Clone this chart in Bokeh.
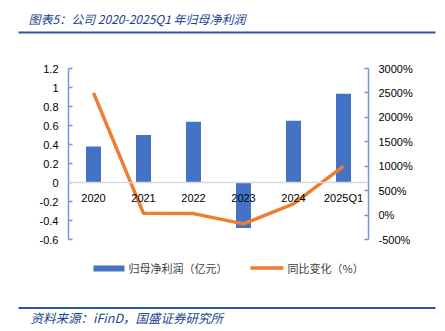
from bokeh.plotting import figure
from bokeh.layouts import column
from bokeh.models import (Range1d, LinearAxis, FixedTicker, CustomJSTickFormatter,
                          Span, FactorRange)
from bokeh.core.properties import value
from bokeh.embed import file_html
from bokeh.resources import INLINE

categories = ["2020", "2021", "2022", "2023", "2024", "2025Q1"]
profit = [0.38, 0.50, 0.64, -0.48, 0.65, 0.935]      # 归母净利润（亿元）
yoy_pct = [2500, 35, 30, -180, 230, 1000]             # 同比变化（%）
left_ticks = [-0.6, -0.4, -0.2, 0, 0.2, 0.4, 0.6, 0.8, 1.0, 1.2]
right_ticks = [-500, 0, 500, 1000, 1500, 2000, 2500, 3000]
title_text = "图表5：公司 2020-2025Q1 年归母净利润"
source_text = "资料来源：iFinD，国盛证券研究所"
legend_labels = ["归母净利润（亿元）", "同比变化（%）"]

W = 445
H_TOP, H_MAIN, H_BOT = 45, 205, 81
FL, FR = 68, 368             # frame x edges
BT, BB = 23, 11              # main figure top / bottom borders

BLUE = "#4472C4"
ORANGE = "#ED7D31"
AXIS = "#7097DC"
RULE = "#2B57A8"
TITLE = "#22428F"
LATIN = "Liberation Sans"
CJK = "Noto Sans CJK SC"


def deco_fig(h):
    f = figure(width=W, height=h, x_range=Range1d(0, W), y_range=Range1d(h, 0),
               output_backend="svg", toolbar_location=None,
               x_axis_location=None, y_axis_location=None,
               min_border=0, min_border_left=0, min_border_right=0,
               min_border_top=0, min_border_bottom=0)
    f.frame_align = False
    f.outline_line_color = None
    f.xgrid.visible = False
    f.ygrid.visible = False
    f.background_fill_color = "white"
    f.border_fill_color = "white"
    return f


# ---------- top: title ----------
top = deco_fig(H_TOP)
top.text(x=[28], y=[17.5], text=[title_text], text_font=value(CJK), text_font_size="12px",
         text_font_style="italic", text_color=TITLE, text_baseline="middle")
top.quad(left=[18], right=[435], top=[31], bottom=[33], fill_color=RULE, line_color=None)

# ---------- main chart ----------
p = figure(width=W, height=H_MAIN,
           x_range=FactorRange(*categories), y_range=Range1d(-0.6, 1.2),
           output_backend="svg", toolbar_location=None, x_axis_location=None,
           min_border_left=FL, min_border_right=W - FR,
           min_border_top=BT, min_border_bottom=BB)
p.frame_align = False
p.outline_line_color = None
p.xgrid.visible = False
p.ygrid.visible = False
p.background_fill_color = "white"
p.border_fill_color = "white"

ya = p.yaxis[0]
ya.ticker = FixedTicker(ticks=left_ticks)
ya.formatter = CustomJSTickFormatter(code="return String(Math.round(tick*10)/10)")
ra = LinearAxis(y_range_name="pct", ticker=FixedTicker(ticks=right_ticks),
                formatter=CustomJSTickFormatter(code="return Math.round(tick) + '%'"))
p.extra_y_ranges = {"pct": Range1d(-500, 3000)}
p.add_layout(ra, "right")
for ax in (ya, ra):
    ax.axis_line_color = AXIS
    ax.axis_line_width = 1.5
    ax.major_tick_line_color = AXIS
    ax.major_tick_line_width = 1.5
    ax.major_tick_in = 4
    ax.major_tick_out = 0
    ax.minor_tick_line_color = None
    ax.major_label_standoff = 10
    ax.major_label_text_font = LATIN
    ax.major_label_text_font_size = "11px"
    ax.major_label_text_color = "#000000"

p.add_layout(Span(location=0, dimension="width", line_color="#D9D9D9", line_width=1.5))
p.vbar(x=categories, top=profit, width=0.3, fill_color=BLUE, line_color=None)
p.line(x=categories, y=yoy_pct, y_range_name="pct", line_color=ORANGE, line_width=3.5)
p.text(x=categories, y=[0] * len(categories), text=categories,
       text_align="center", text_baseline="middle", y_offset=15,
       text_font=value(LATIN), text_font_size="11px", text_color="#000000")

# ---------- bottom: legend + source ----------
bot = deco_fig(H_BOT)
bot.quad(left=[93], right=[124], top=[15], bottom=[21], fill_color=BLUE, line_color=None)
bot.text(x=[128], y=[17], text=[legend_labels[0]], text_font=value(CJK), text_font_size="11px",
         text_color="#404040", text_baseline="middle")
bot.quad(left=[250], right=[283], top=[15.7], bottom=[19.3], fill_color=ORANGE, line_color=None)
bot.text(x=[287], y=[17], text=[legend_labels[1]], text_font=value(CJK), text_font_size="11px",
         text_color="#404040", text_baseline="middle")
bot.quad(left=[18], right=[435], top=[56.5], bottom=[58.5], fill_color=RULE, line_color=None)
bot.text(x=[30], y=[66.5], text=[source_text], text_font=value(CJK), text_font_size="12.5px",
         text_font_style="italic", text_color=TITLE, text_baseline="middle")

layout = column(top, p, bot, spacing=0)
open("out.html", "w").write(file_html(layout, INLINE))
